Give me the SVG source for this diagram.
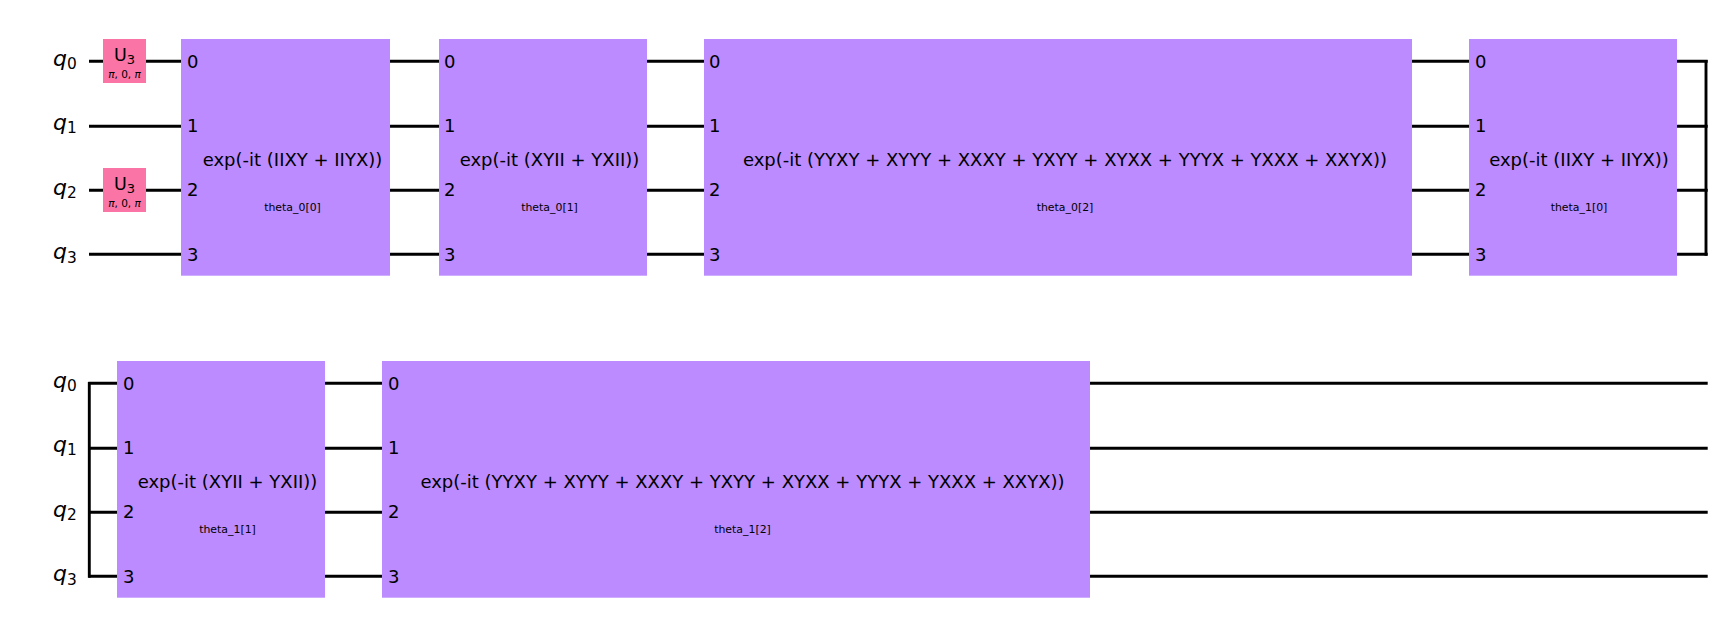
<svg xmlns="http://www.w3.org/2000/svg" width="1722" height="625" viewBox="0 0 1722 625">
<style>
text{font-family:"DejaVu Sans",sans-serif;fill:#000}
.w{stroke:#000;stroke-width:2.9;fill:none;stroke-linecap:butt}
.g{fill:#bb8bff}
.u{fill:#fa74a6}
.q{font-size:22px;font-style:italic;text-anchor:middle}
.s{font-size:15.4px;font-style:normal}
.t{font-size:18px;text-anchor:middle}
.p{font-size:10.9px;text-anchor:middle}
.n{font-size:18px}
.m{font-size:10.500px;text-anchor:middle}
.c{font-size:17.500px;text-anchor:middle}
</style>
<rect width="1722" height="625" fill="#fff"/>
<g id="connectors" class="w">
<path d="M89 61.300H1707.700M89 126.300H1707.700M89 190.300H1707.700M89 254.300H1707.700"/>
<path d="M1706 60V255.700"/>
<path d="M88.300 383.300H1707.700M88.300 448.300H1707.700M88.300 512.300H1707.700M88.300 576.300H1707.700"/>
<path d="M89.300 382V577.700"/>
</g>
<g id="labels-row1">
<text class="q" x="65" y="65.700">q<tspan class="s" dy="3.300">0</tspan></text>
<text class="q" x="65" y="130">q<tspan class="s" dy="3.300">1</tspan></text>
<text class="q" x="65" y="195">q<tspan class="s" dy="3.300">2</tspan></text>
<text class="q" x="65" y="259.300">q<tspan class="s" dy="3.300">3</tspan></text>
</g>
<g id="labels-row2">
<text class="q" x="65" y="387.700">q<tspan class="s" dy="3.300">0</tspan></text>
<text class="q" x="65" y="452">q<tspan class="s" dy="3.300">1</tspan></text>
<text class="q" x="65" y="517">q<tspan class="s" dy="3.300">2</tspan></text>
<text class="q" x="65" y="581.300">q<tspan class="s" dy="3.300">3</tspan></text>
</g>
<g id="u3-q0"><rect class="u" x="103" y="39" width="43" height="44"/><text class="c" x="124.500" y="60.500">U<tspan font-size="13" dy="3">3</tspan></text><text class="m" x="124.500" y="78.300"><tspan font-style="italic">π</tspan>, 0, <tspan font-style="italic">π</tspan></text></g>
<g id="u3-q2"><rect class="u" x="103" y="168" width="43" height="44"/><text class="c" x="124.500" y="189.500">U<tspan font-size="13" dy="3">3</tspan></text><text class="m" x="124.500" y="207.300"><tspan font-style="italic">π</tspan>, 0, <tspan font-style="italic">π</tspan></text></g>

<g id="box-theta-0-0"><rect class="g" x="181" y="39" width="209" height="236.700"/>
<text class="n" x="187" y="67.500">0</text><text class="n" x="187" y="131.700">1</text><text class="n" x="187" y="196">2</text><text class="n" x="187" y="260.500">3</text>
<text class="t" x="292.500" y="166">exp(-it (IIXY + IIYX))</text><text class="p" x="292.500" y="211">theta_0[0]</text></g>

<g id="box-theta-0-1"><rect class="g" x="439" y="39" width="208" height="236.700"/>
<text class="n" x="444" y="67.500">0</text><text class="n" x="444" y="131.700">1</text><text class="n" x="444" y="196">2</text><text class="n" x="444" y="260.500">3</text>
<text class="t" x="549.500" y="166">exp(-it (XYII + YXII))</text><text class="p" x="549.500" y="211">theta_0[1]</text></g>

<g id="box-theta-0-2"><rect class="g" x="704" y="39" width="708" height="236.700"/>
<text class="n" x="709" y="67.500">0</text><text class="n" x="709" y="131.700">1</text><text class="n" x="709" y="196">2</text><text class="n" x="709" y="260.500">3</text>
<text class="t" x="1065" y="166">exp(-it (YYXY + XYYY + XXXY + YXYY + XYXX + YYYX + YXXX + XXYX))</text><text class="p" x="1065" y="211">theta_0[2]</text></g>

<g id="box-theta-1-0"><rect class="g" x="1469" y="39" width="208" height="236.700"/>
<text class="n" x="1475" y="67.500">0</text><text class="n" x="1475" y="131.700">1</text><text class="n" x="1475" y="196">2</text><text class="n" x="1475" y="260.500">3</text>
<text class="t" x="1579" y="166">exp(-it (IIXY + IIYX))</text><text class="p" x="1579" y="211">theta_1[0]</text></g>

<g id="box-theta-1-1"><rect class="g" x="117" y="361" width="208" height="236.700"/>
<text class="n" x="123" y="389.500">0</text><text class="n" x="123" y="453.700">1</text><text class="n" x="123" y="518">2</text><text class="n" x="123" y="582.500">3</text>
<text class="t" x="227.500" y="488">exp(-it (XYII + YXII))</text><text class="p" x="227.500" y="533">theta_1[1]</text></g>

<g id="box-theta-1-2"><rect class="g" x="382" y="361" width="708" height="236.700"/>
<text class="n" x="388" y="389.500">0</text><text class="n" x="388" y="453.700">1</text><text class="n" x="388" y="518">2</text><text class="n" x="388" y="582.500">3</text>
<text class="t" x="742.500" y="488">exp(-it (YYXY + XYYY + XXXY + YXYY + XYXX + YYYX + YXXX + XXYX))</text><text class="p" x="742.500" y="533">theta_1[2]</text></g>
</svg>
